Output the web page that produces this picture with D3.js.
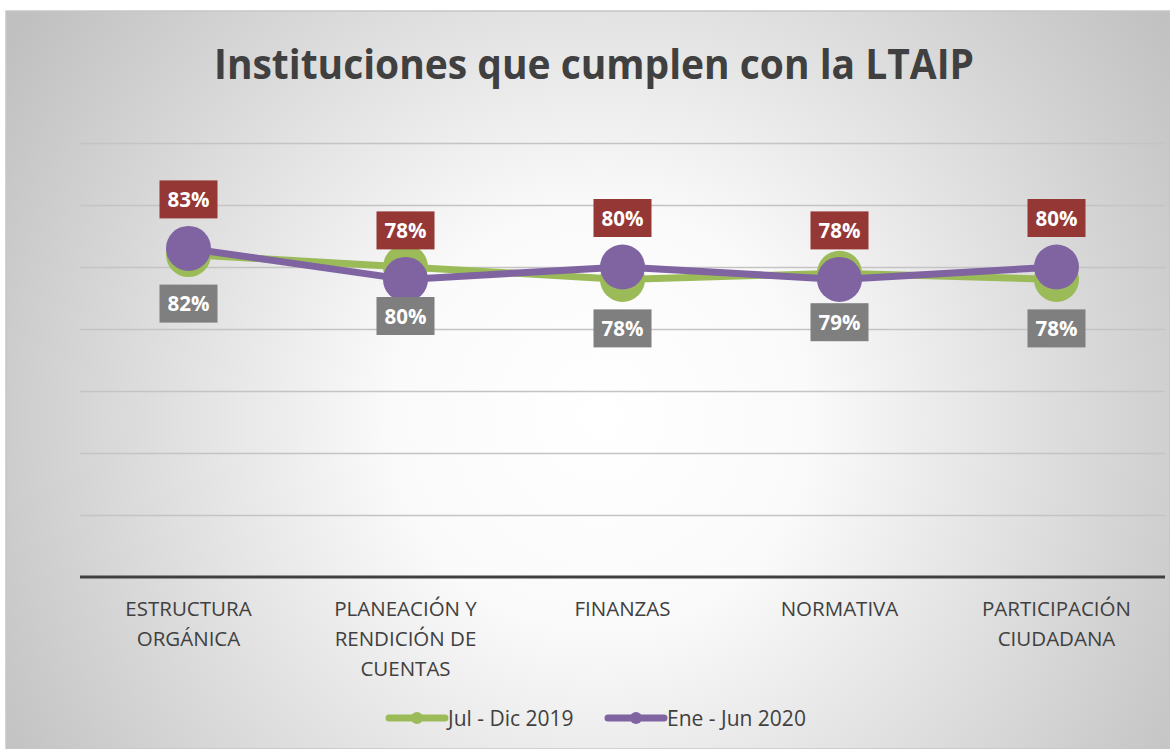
<!DOCTYPE html>
<html>
<head>
<meta charset="utf-8">
<script src="https://cdn.jsdelivr.net/npm/d3@7"></script>
<style>
    body { margin: 0; background: #fff; }
    svg { display: block; }
    text { font-family: "Open Sans", Lato, "DejaVu Sans", sans-serif; }
</style>
</head>
<body>
<svg id="chart" width="1170" height="749"></svg>
<script>
// --- Data ---
const categories = [
    ["ESTRUCTURA", "ORGÁNICA"],
    ["PLANEACIÓN Y", "RENDICIÓN DE", "CUENTAS"],
    ["FINANZAS"],
    ["NORMATIVA"],
    ["PARTICIPACIÓN", "CIUDADANA"]
];
const seriesNames = ["Jul - Dic 2019", "Ene - Jun 2020"];
const jul2019 = [0.82, 0.80, 0.78, 0.79, 0.78];
const ene2020 = [0.83, 0.78, 0.80, 0.78, 0.80];
const yTicks = [0.3, 0.4, 0.5, 0.6, 0.7, 0.8, 0.9, 1.0];

const W = 1170, H = 749;
const margin = { top: 143, right: 5, bottom: 172, left: 80 };
const colors = ["#9bbb59", "#8064a2"];
const labelFill = ["#7f7f7f", "#953735"];

const svg = d3.select("#chart");

// --- Background ---
const defs = svg.append("defs");
const grad = defs.append("radialGradient")
    .attr("id", "bg")
    .attr("gradientUnits", "userSpaceOnUse")
    .attr("cx", 600).attr("cy", 420).attr("r", 700);
grad.append("stop").attr("offset", "0").attr("stop-color", "#ffffff");
grad.append("stop").attr("offset", "0.3").attr("stop-color", "#fafafa");
grad.append("stop").attr("offset", "1").attr("stop-color", "#c0c0c0");

svg.append("rect")
    .attr("x", 6).attr("y", 11)
    .attr("width", W - 6).attr("height", H - 11)
    .attr("fill", "url(#bg)")
    .attr("stroke", "#c6c6c6").attr("stroke-width", 1.5);

// --- Title ---
svg.append("text")
    .attr("x", 594).attr("y", 79)
    .attr("text-anchor", "middle")
    .attr("font-size", 42).attr("font-weight", 700)
    .attr("fill", "#404040")
    .attr("textLength", 760).attr("lengthAdjust", "spacingAndGlyphs")
    .text("Instituciones que cumplen con la LTAIP");

// --- Scales ---
const x = d3.scaleBand()
    .domain(d3.range(categories.length))
    .range([margin.left, W - margin.right]);
const y = d3.scaleLinear()
    .domain([0.3, 1.0])
    .range([H - margin.bottom, margin.top]);
const cx = function (i) { return x(i) + x.bandwidth() / 2; };

// --- Grid ---
svg.append("g")
    .selectAll("line")
    .data(yTicks.slice(1))
    .join("line")
    .attr("x1", margin.left).attr("x2", W - margin.right)
    .attr("y1", function (d) { return Math.round(y(d)) + 0.5; })
    .attr("y2", function (d) { return Math.round(y(d)) + 0.5; })
    .attr("stroke", "#c4c4c4").attr("stroke-width", 1.5);

// X axis line
svg.append("line")
    .attr("x1", margin.left).attr("x2", W - margin.right)
    .attr("y1", y(0.3)).attr("y2", y(0.3))
    .attr("stroke", "#404040").attr("stroke-width", 3);

// Category labels
const catG = svg.append("g")
    .attr("font-size", 20.5).attr("fill", "#404040").attr("text-anchor", "middle");
categories.forEach(function (lines, i) {
    const t = catG.append("text").attr("x", cx(i)).attr("y", 616);
    lines.forEach(function (ln, j) {
        t.append("tspan").attr("x", cx(i)).attr("dy", j === 0 ? 0 : 30).text(ln);
    });
});

// --- Series ---
const line = d3.line()
    .x(function (d, i) { return cx(i); })
    .y(function (d) { return y(d); });

[jul2019, ene2020].forEach(function (vals, s) {
    const g = svg.append("g");
    g.append("path")
        .datum(vals)
        .attr("d", line)
        .attr("fill", "none")
        .attr("stroke", colors[s])
        .attr("stroke-width", 7)
        .attr("stroke-linejoin", "round");
    g.selectAll("circle")
        .data(vals)
        .join("circle")
        .attr("cx", function (d, i) { return cx(i); })
        .attr("cy", function (d) { return y(d); })
        .attr("r", 22.5)
        .attr("fill", colors[s]);
});

// --- Data labels ---
const fmt = d3.format(".0%");
[jul2019, ene2020].forEach(function (vals, s) {
    const g = svg.append("g");
    vals.forEach(function (v, i) {
        const bw = 58, bh = 38;
        const top = s === 1 ? y(v) - 30 - bh : y(v) + 30;
        g.append("rect")
            .attr("x", cx(i) - bw / 2).attr("y", top)
            .attr("width", bw).attr("height", bh)
            .attr("fill", labelFill[s]);
        g.append("text")
            .attr("x", cx(i)).attr("y", top + 26.5)
            .attr("text-anchor", "middle")
            .attr("font-size", 20.5).attr("font-weight", 700)
            .attr("fill", "#ffffff")
            .text(fmt(v));
    });
});

// --- Legend ---
const legend = svg.append("g").attr("font-size", 21).attr("fill", "#404040");
const legendX = [389, 608];
seriesNames.forEach(function (name, s) {
    const lx = legendX[s], ly = 718;
    legend.append("line")
        .attr("x1", lx).attr("x2", lx + 56)
        .attr("y1", ly).attr("y2", ly)
        .attr("stroke", colors[s]).attr("stroke-width", 7)
        .attr("stroke-linecap", "round");
    legend.append("circle")
        .attr("cx", lx + 28).attr("cy", ly).attr("r", 6)
        .attr("fill", colors[s]);
    legend.append("text")
        .attr("x", lx + 59).attr("y", ly + 8)
        .text(name);
});
</script>
</body>
</html>
